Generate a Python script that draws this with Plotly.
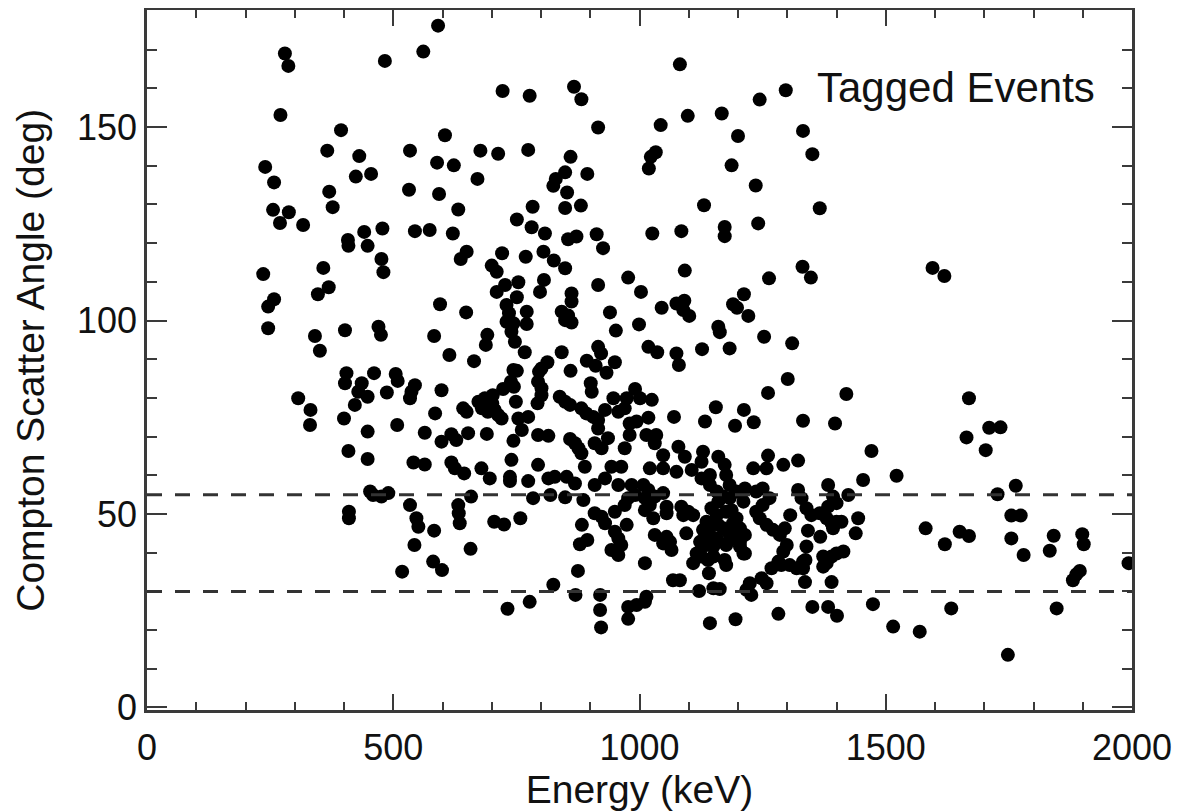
import plotly.graph_objects as go

# Energy (keV) and Compton scatter angle (deg) of tagged events
energy_kev = [
    280, 287, 483, 271, 394, 366, 431, 240, 258, 424, 455, 370, 377, 256, 288, 270, 317, 441, 478, 408,
    591, 561, 722, 777, 867, 882, 916, 605, 534, 677, 713, 774, 860, 589, 623, 849, 894, 830, 825, 671,
    532, 593, 853, 632, 783, 849, 881, 751, 781, 808, 544, 574, 621, 872, 855, 913,
    1082, 1297, 1244, 1043, 1098, 1167, 1200, 1332, 1351, 1033, 1023, 1019, 1187, 1236, 1131, 1366,
    1026, 1085, 1173, 1173, 1241,
    409, 448, 476, 480, 236, 358, 369, 347, 258, 246, 246, 341, 351, 402, 470, 475, 405, 461, 402, 436,
    429, 448, 487, 422, 307, 332, 331, 400, 448, 409, 448,
    926, 649, 637, 721, 769, 805, 826, 849, 700, 710, 754, 806, 798, 727, 710, 751, 730, 771, 735, 730,
    744, 771, 740, 747, 767, 862, 862, 842, 855, 862, 849, 595, 648, 583, 691, 688, 614, 664, 916, 977,
    940, 952, 842, 916, 922, 893, 911, 950, 933, 860, 813, 801, 796, 794, 801, 801, 793, 744, 751, 739,
    723, 745, 749, 505, 509, 544, 537, 534, 598, 585, 508, 564, 598, 618, 628, 652, 642, 649, 673, 686,
    701, 706, 713, 720, 692, 680, 702, 690, 754, 774, 761, 744, 740, 794, 815, 794, 838, 849, 859, 882,
    892, 906, 916, 901, 903, 947, 974, 957, 970, 930, 859, 869, 876, 882, 909, 923, 936, 916, 980, 980,
    970, 541, 564, 618, 625, 679, 889, 943, 963,
    1092, 1263, 1331, 1348, 1003, 1075, 1091, 1045, 1089, 1101, 1212, 1190, 1198, 1221, 1160, 1163, 1253,
    1310, 999, 1018, 1036, 1075, 1080, 1127, 1183, 1301, 1261, 1420, 1155, 1212, 1070, 1133, 1194, 1232,
    1332, 1397, 1471, 991, 1001, 1025, 994, 1018, 1014, 1034, 1031, 1048, 1079, 1092, 1129, 1160, 1126,
    1173, 1261, 1322, 1292, 1231, 1258,
    1595, 1619, 1669, 1664, 1710, 1733, 1703,
    410, 410, 453, 459, 476, 490,
    644, 696, 737, 737, 774, 815, 828, 852, 869, 909, 930, 984,
    534, 547, 551, 583, 543, 658, 632, 633, 635, 657, 705, 725, 758, 581, 599, 518, 784, 819, 849, 886,
    825, 777, 732, 870, 875, 879, 894, 883, 920, 920, 922, 977, 977,
    909, 923, 930, 950, 957, 963, 943, 957, 974, 950, 970, 977, 957,
    1021, 1048, 1075, 1106, 1176, 1454, 1424, 1444, 1439, 1383, 1393, 1400, 1383, 1366, 1380, 1390, 1400,
    1410, 1393, 1322, 1329, 1339, 1349, 1342, 1367, 1339, 1414, 1400, 1390, 1373, 1380, 1373, 1337, 1332,
    1336, 1390, 1351, 1383, 1401, 1474, 1282, 1195, 1143,
    1237, 1250, 1264, 1250, 1237, 1244, 1258, 1271, 1285, 1295, 1306, 1299, 1292, 1282, 1268, 1288, 1305,
    1319, 1332, 1248, 1258, 1224, 1217, 1227,
    1207, 1211, 1183, 1176, 1187, 1197, 1190, 1204, 1214, 1204, 1214,
    1143, 1157, 1170, 1183, 1160, 1146, 1157, 1136, 1146, 1160, 1170, 1180, 1129, 1143, 1157, 1183, 1197,
    1123, 1136, 1150, 1176, 1204,
    1116, 1126, 1109, 1139, 1150, 1173, 1176, 1211, 1141, 1121, 1150, 1163, 1095, 1062, 1055, 1065, 1048,
    1031, 1011, 1068, 1082, 994, 1014, 1011,
    1008, 1018, 1011, 1021, 1011, 1028, 1031, 1048, 1055, 1055, 1085, 1089, 1099, 1109, 991, 1126, 1143,
    1197, 1214,
    1522, 1727, 1764, 1755, 1774, 1755, 1780, 1581, 1620, 1650, 1669, 1841, 1833, 1899, 1902, 1894, 1887,
    1880, 1993, 1515, 1569, 1633, 1847, 1748,
]
scatter_angle_deg = [
    169.0, 165.8, 167.1, 153.1, 149.2, 143.9, 142.5, 139.7, 135.7, 137.2, 137.9, 133.3, 129.3, 128.6, 128.0, 125.2, 124.7, 122.9, 123.8, 120.8,
    176.2, 169.5, 159.3, 158.1, 160.4, 157.2, 149.9, 147.9, 143.9, 143.9, 143.1, 144.1, 142.3, 140.8, 140.1, 138.3, 137.9, 136.6, 134.8, 136.6,
    133.8, 132.7, 133.1, 128.7, 129.4, 129.1, 129.7, 126.1, 124.1, 122.5, 123.1, 123.4, 122.5, 121.7, 121.0, 122.3,
    166.2, 159.5, 157.1, 150.5, 152.9, 153.5, 147.7, 149.0, 143.0, 143.5, 142.3, 139.3, 140.1, 134.9, 129.8, 129.0,
    122.5, 123.1, 124.2, 121.8, 125.1,
    119.3, 119.3, 115.9, 112.5, 112.0, 113.6, 108.6, 106.8, 105.5, 103.6, 98.0, 96.0, 92.2, 97.5, 98.4, 96.3, 86.4, 86.4, 83.8, 83.8,
    81.6, 80.3, 81.4, 78.2, 79.9, 76.9, 73.0, 74.7, 71.3, 66.3, 64.2,
    118.7, 117.8, 115.9, 117.4, 116.5, 117.8, 115.5, 113.5, 114.2, 112.6, 109.9, 110.5, 107.4, 109.2, 107.4, 106.0, 104.0, 102.3, 101.9, 99.7,
    99.3, 99.1, 97.1, 94.5, 91.8, 107.0, 104.9, 102.3, 101.3, 99.5, 100.1, 104.2, 102.1, 96.0, 96.3, 93.7, 91.1, 89.5, 109.2, 111.1,
    102.1, 97.4, 91.8, 93.2, 91.5, 89.6, 88.3, 89.2, 86.5, 87.0, 89.2, 87.6, 86.8, 84.2, 82.5, 80.7, 78.6, 87.2, 87.0, 84.2,
    82.3, 82.9, 79.0, 86.2, 84.4, 83.3, 81.6, 79.9, 82.0, 76.0, 73.0, 71.0, 68.7, 70.6, 69.1, 70.9, 77.3, 76.4, 79.0, 79.9,
    78.6, 76.9, 75.6, 74.7, 76.4, 77.3, 80.7, 70.7, 74.7, 75.1, 71.7, 68.9, 64.0, 70.4, 70.2, 62.7, 80.3, 79.0, 78.2, 77.3,
    76.0, 75.1, 74.3, 83.8, 81.6, 79.9, 79.9, 76.4, 77.3, 76.9, 69.4, 68.3, 67.0, 65.7, 68.3, 67.0, 69.6, 72.1, 73.4, 70.4,
    67.0, 63.3, 62.8, 63.3, 61.8, 61.8, 62.2, 62.2, 62.2,
    112.9, 110.9, 113.9, 111.1, 107.4, 104.4, 105.1, 103.3, 102.7, 101.2, 106.8, 104.2, 103.3, 101.2, 98.4, 97.0, 95.8,
    94.1, 99.0, 93.2, 91.8, 91.5, 88.5, 92.6, 92.8, 84.9, 81.3, 81.0, 77.6, 76.9, 75.1, 73.9, 72.8, 73.7,
    74.1, 73.4, 66.3, 82.3, 79.9, 79.5, 73.9, 74.9, 70.4, 70.4, 68.3, 65.2, 67.4, 64.8, 66.1, 64.8, 63.5,
    62.7, 65.1, 63.8, 62.7, 61.8, 61.8,
    113.6, 111.5, 79.9, 69.8, 72.3, 72.4, 66.5,
    50.6, 48.9, 55.8, 54.9, 54.5, 55.4,
    60.5, 59.2, 59.6, 58.5, 58.5, 59.2, 59.6, 59.6, 57.9, 57.5, 59.2, 57.5,
    52.3, 48.9, 46.7, 45.7, 42.0, 54.5, 52.3, 50.2, 47.6, 41.0, 48.0, 47.3, 48.9, 37.7, 35.5, 35.1, 54.1, 54.9, 54.3, 53.6,
    31.7, 27.3, 25.5, 29.1, 35.3, 42.2, 43.3, 47.2, 29.1, 25.2, 20.7, 26.0, 22.9,
    50.2, 49.3, 47.6, 45.4, 43.7, 42.0, 40.7, 39.4, 47.2, 50.6, 52.3, 54.1, 57.5,
    61.8, 61.8, 60.9, 61.4, 60.1, 58.8, 54.9, 48.9, 45.0, 57.5, 54.5, 52.8, 51.9, 50.2, 48.9, 47.6, 48.0,
    48.0, 46.3, 56.2, 54.1, 51.5, 49.7, 45.7, 44.1, 41.6, 40.3, 39.8, 39.0, 39.0, 37.3, 36.4, 38.1, 36.0,
    32.4, 32.4, 26.0, 26.0, 23.7, 26.7, 24.2, 22.8, 21.8,
    55.8, 56.6, 54.1, 52.3, 50.6, 48.9, 47.2, 45.9, 44.6, 46.3, 49.7, 42.0, 40.3, 37.7, 36.0, 36.8, 36.8,
    36.0, 37.7, 33.4, 32.1, 32.1, 30.4, 29.1,
    55.4, 53.2, 54.1, 50.6, 51.0, 48.9, 47.6, 46.3, 44.6, 42.8, 39.8,
    57.5, 55.8, 54.5, 57.5, 53.2, 51.5, 49.7, 48.0, 47.6, 47.2, 46.3, 45.4, 45.9, 44.6, 43.7, 43.3, 44.1,
    42.8, 42.0, 41.6, 42.0, 41.6,
    39.8, 39.0, 37.3, 38.1, 39.0, 38.1, 36.8, 39.8, 34.7, 30.1, 30.8, 30.6, 45.0, 42.8, 44.1, 40.7, 42.4,
    44.6, 37.3, 32.9, 32.9, 26.5, 28.6, 27.3,
    57.5, 56.2, 54.1, 52.3, 51.0, 48.9, 54.5, 55.4, 51.9, 50.2, 51.9, 49.7, 50.6, 49.7, 54.9, 59.2, 60.1,
    55.8, 56.6,
    59.9, 55.1, 57.3, 49.6, 49.6, 43.7, 39.4, 46.3, 42.2, 45.4, 44.3, 44.4, 40.5, 44.8, 42.2, 35.3, 34.4,
    32.9, 37.3, 20.9, 19.6, 25.6, 25.6, 13.6,
]

# Angle cut lines (deg)
cut_angles = [55, 30]

x_tick_vals = [0, 500, 1000, 1500, 2000]
y_tick_vals = [0, 50, 100, 150]

FONT = "Liberation Sans, Arial, Helvetica, sans-serif"
AXIS_COLOR = "#3a3a3a"
TEXT_COLOR = "#111111"

fig = go.Figure()

fig.add_trace(go.Scatter(
    x=energy_kev, y=scatter_angle_deg, mode="markers",
    marker=dict(symbol="circle", size=14, color="black", line=dict(width=0)),
    showlegend=False, hoverinfo="x+y",
))

for a in cut_angles:
    fig.add_hline(y=a, line=dict(color="#333333", width=3, dash="15px,13px"))

fig.add_annotation(
    x=0.9645, y=0.889, xref="paper", yref="paper", xanchor="right", yanchor="middle",
    text="Tagged Events", showarrow=False, font=dict(family=FONT, size=42, color=TEXT_COLOR),
)

# y-axis title placed as a rotated annotation (closer to the tick labels than plotly's title allows)
fig.add_annotation(
    x=-0.119, y=0.5, xref="paper", yref="paper", xanchor="center", yanchor="middle",
    text="Compton Scatter Angle (deg)", textangle=-90, showarrow=False,
    font=dict(family=FONT, size=39, color=TEXT_COLOR),
)

axis_common = dict(
    showgrid=False, zeroline=False, showline=True, linewidth=2.5, linecolor=AXIS_COLOR,
    mirror="allticks", ticks="inside", tickwidth=2, tickcolor=AXIS_COLOR,
    tickfont=dict(family=FONT, size=36, color=TEXT_COLOR), automargin=False,
)

fig.update_xaxes(
    range=[0, 2000], tickvals=x_tick_vals, ticklen=16, ticklabelstandoff=4,
    minor=dict(dtick=100, ticks="inside", ticklen=8, tickwidth=2, tickcolor=AXIS_COLOR, showgrid=False),
    title=dict(text="Energy (keV)", font=dict(family=FONT, size=39, color=TEXT_COLOR), standoff=2),
    **axis_common,
)
fig.update_yaxes(
    range=[-0.65, 180.25], tickvals=y_tick_vals, ticklen=20,
    minor=dict(dtick=10, ticks="inside", ticklen=10, tickwidth=2, tickcolor=AXIS_COLOR, showgrid=False),
    **axis_common,
)

# the page body adds an 8px offset; margins are set so the plot box lands at x 147..1132, y 10..710
fig.update_layout(
    width=1185, height=812,
    margin=dict(l=139, r=61, t=2, b=110),
    plot_bgcolor="white", paper_bgcolor="white",
)

fig.write_html("out.html")
